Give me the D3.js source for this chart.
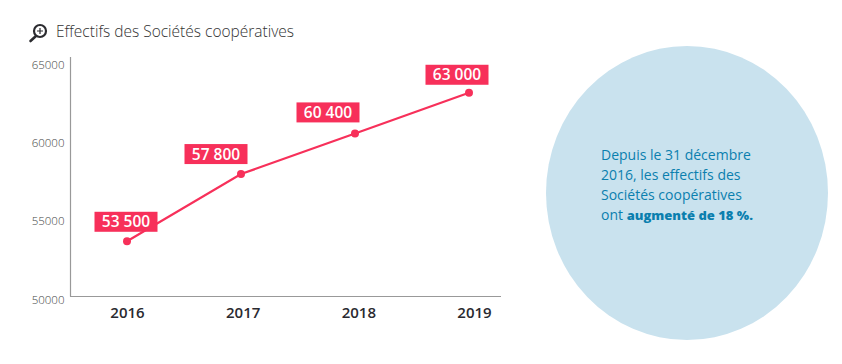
<!DOCTYPE html>
<html><head><meta charset="utf-8">
<script src="https://cdn.jsdelivr.net/npm/d3@7"></script>
<style>
html,body{margin:0;padding:0;background:#fff}
svg{display:block}
text{font-family:"Open Sans",sans-serif}
</style></head><body><div id="c"></div>
<script>
const years=["2016","2017","2018","2019"];
const values=[53500,57800,60400,63000];
const valueLabels=["53 500","57 800","60 400","63 000"];
const yTicks=[50000,55000,60000,65000];
const title="Effectifs des Sociétés coopératives";
const noteLines=[[["Depuis le 31 décembre",400,14]],[["2016, les effectifs des",400,14]],[["Sociétés coopératives",400,14]],[["ont ",400,14],["augmenté de 18 %.",800,13]]];

const svg=d3.select("#c").append("svg").attr("width",842).attr("height",364);
const x=d3.scalePoint().domain(years).range([127,469]);
const xLabels=d3.scalePoint().domain(years).range([127,474]);
const y=d3.scaleLinear().domain([50000,65000]).range([296,61.5]);
const red="#f7305a";

// Title and icon
const ic=svg.append("g").attr("transform","translate(40,31)");
ic.append("line").attr("x1",-4).attr("y1",5).attr("x2",-9.5).attr("y2",10).attr("stroke","#2b2b2f").attr("stroke-width",2.6).attr("stroke-linecap","round");
ic.append("circle").attr("r",6).attr("fill","#fff").attr("stroke","#2b2b2f").attr("stroke-width",2.2);
ic.append("path").attr("d","M-3,0H3M0,-3V3").attr("stroke","#2b2b2f").attr("stroke-width",1.2);
svg.append("text").attr("x",56).attr("y",37).attr("font-size",16).attr("font-weight",300).attr("fill","#333").attr("textLength",238).attr("lengthAdjust","spacingAndGlyphs").text(title);

// Axes
const gy=svg.append("g").attr("transform","translate(70.5,0)")
  .call(d3.axisLeft(y).tickValues(yTicks).tickSize(0).tickPadding(6).tickFormat(d3.format("d")));
gy.select(".domain").attr("d","M0,57V296.5").attr("stroke","#999").attr("stroke-width",1.2);
gy.selectAll("text").attr("font-size",11.5).attr("font-weight",300).attr("fill","#444").attr("y",7).attr("dy","0");
const gx=svg.append("g").attr("transform","translate(0,296.5)")
  .call(d3.axisBottom(xLabels).tickSize(0).tickPadding(11));
gx.select(".domain").attr("d","M70,0H501").attr("stroke","#999").attr("stroke-width",1.2);
gx.selectAll("text").attr("font-size",15).attr("font-weight",600).attr("fill","#2a2a30");

// Line
const line=d3.line().x((d,i)=>x(years[i])).y(d=>y(d));
svg.append("path").datum(values).attr("d",line).attr("fill","none").attr("stroke",red).attr("stroke-width",2.2);
svg.selectAll(".pt").data(values).join("circle").attr("class","pt")
  .attr("cx",(d,i)=>x(years[i])).attr("cy",d=>y(d)).attr("r",4).attr("fill",red);

// Value tags
const tagDx=[-1,-25,-27,-12], tagDy=[-29.5,-30,-31,-28];
const tag=svg.selectAll(".tag").data(values).join("g").attr("class","tag")
  .attr("transform",(d,i)=>`translate(${x(years[i])+tagDx[i]},${y(d)+tagDy[i]})`);
tag.append("rect").attr("x",-31.5).attr("y",0).attr("width",63).attr("height",20).attr("fill",red);
tag.append("text").attr("y",15.5).attr("text-anchor","middle").attr("font-size",15.5).attr("font-weight",600).attr("fill","#fff").text((d,i)=>valueLabels[i]);

// Note circle
svg.append("ellipse").attr("cx",687).attr("cy",193).attr("rx",141).attr("ry",147).attr("fill","#c9e2ee");
const note=svg.append("text").attr("fill","#0b7fae").attr("font-size",14);
noteLines.forEach((l,i)=>{
  const t=note.append("tspan").attr("x",601).attr("y",160+i*20);
  l.forEach(([s,w,fs],j)=>{ (j?note.append("tspan"):t).attr("font-weight",w).attr("font-size",fs).text(s); });
});
</script></body></html>
